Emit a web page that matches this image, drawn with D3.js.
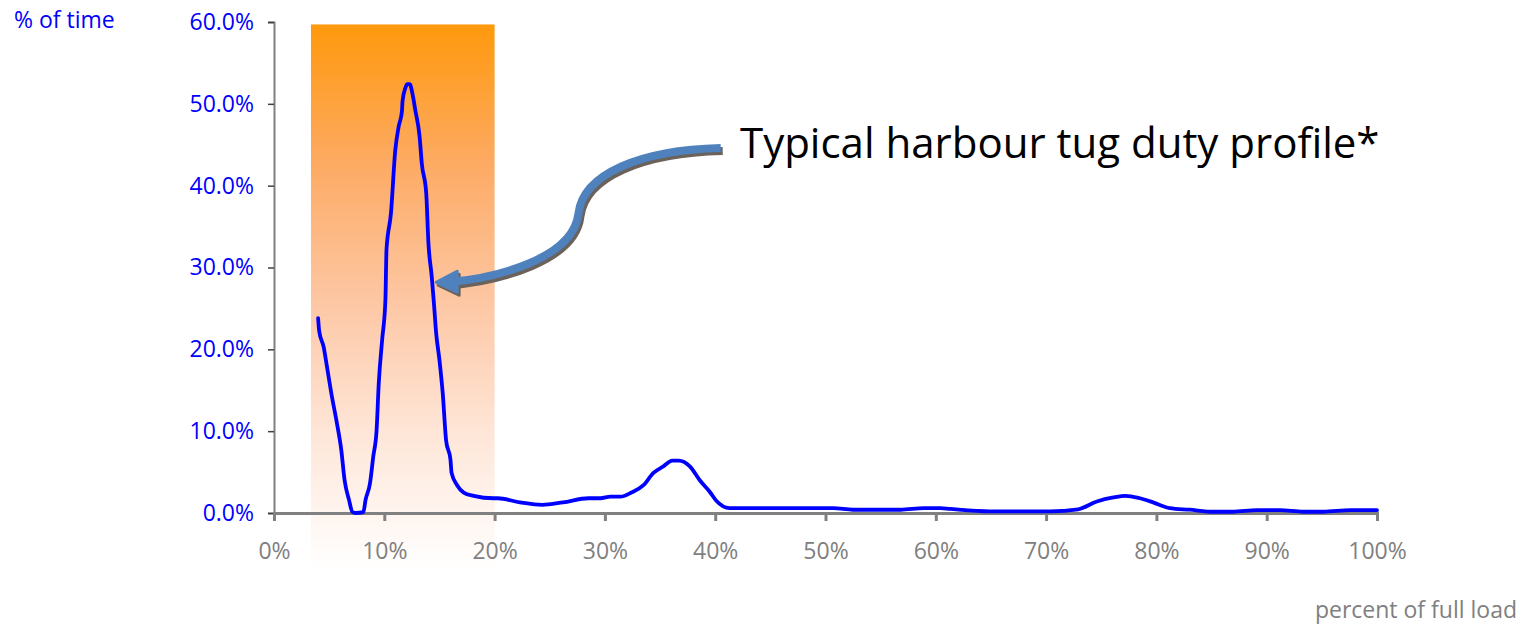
<!DOCTYPE html>
<html>
<head>
<meta charset="utf-8">
<script src="https://cdn.jsdelivr.net/npm/d3@7"></script>
<style>
  body { margin: 0; background: #fff; }
  svg { display: block; font-family: "Open Sans", sans-serif; }
</style>
</head>
<body>
<div id="duty-profile"></div>
<script>
// percent of full load (x) and percent of time (y)
const loadPct = [4.0, 4.1, 4.5, 4.8, 5.2, 5.7, 6.1, 6.4, 6.8, 7.1, 7.4, 8.1, 8.3, 8.7, 9.0, 9.3, 9.5, 9.8,
    10.1, 10.2, 10.6, 11.0, 11.3, 11.6, 11.65, 11.9, 12.1, 12.3, 12.6, 12.8, 13.2, 13.4, 13.8, 14.0, 14.3,
    14.5, 14.7, 15.0, 15.3, 15.6, 16.0, 16.1, 16.6, 17.2, 18.1, 19.9, 20.3, 22.3, 24.3, 26.2, 28.5, 29.6,
    30.5, 31.4, 32.4, 33.5, 34.4, 35.3, 36.1, 36.7, 37.7, 38.6, 39.5, 40.1, 41.3, 45.0, 50.7, 52.5, 56.8,
    58.9, 60.4, 61.3, 64.9, 70.4, 72.9, 74.6, 76.1, 77.2, 78.5, 79.7, 81.2, 83.0, 85.2, 86.9, 89.1, 91.2,
    93.3, 95.1, 97.6, 100];
const timePct = [23.8, 22.2, 20.3, 17.9, 14.6, 11.0, 7.7, 4.0, 1.6, 0.15, 0, 0.1, 1.6, 3.6, 6.9, 10.1, 15.9, 21.1,
    26.0, 32.2, 36.6, 44.4, 47.2, 49.1, 50.3, 51.9, 52.4, 52.4, 50.9, 49.3, 46.0, 42.7, 39.1, 33.0, 28.9,
    25.6, 22.0, 18.7, 14.6, 8.9, 6.5, 4.9, 3.4, 2.5, 2.1, 1.8, 1.8, 1.3, 1.0, 1.3, 1.8, 1.8,
    2.0, 2.0, 2.5, 3.4, 4.9, 5.7, 6.4, 6.4, 5.7, 4.0, 2.6, 1.5, 0.6, 0.6, 0.6, 0.4, 0.4,
    0.6, 0.6, 0.5, 0.2, 0.2, 0.45, 1.4, 1.9, 2.1, 1.8, 1.3, 0.6, 0.4, 0.15, 0.15, 0.35, 0.35,
    0.15, 0.15, 0.35, 0.35];

const yTicks = [0, 10, 20, 30, 40, 50, 60];
const xTicks = [0, 10, 20, 30, 40, 50, 60, 70, 80, 90, 100];
const highlightRange = [3.35, 20]; // shaded band, percent of full load

const yTitle = '% of time';
const xTitle = 'percent of full load';
const note = 'Typical harbour tug duty profile*';

const width = 1522, height = 625;
const margin = { top: 22, right: 145, bottom: 112, left: 274 };

const svg = d3.select('#duty-profile')
    .append('svg')
    .attr('width', width)
    .attr('height', height);

const x = d3.scaleLinear().domain([0, 100]).range([margin.left, width - margin.right]);
const y = d3.scaleLinear().domain([0, 60]).range([height - margin.bottom, margin.top]);

/* orange band */
const defs = svg.append('defs');
const grad = defs.append('linearGradient')
    .attr('id', 'band')
    .attr('x1', 0).attr('y1', 0).attr('x2', 0).attr('y2', 1);
grad.append('stop').attr('offset', '0%').attr('stop-color', '#ff990c');
grad.append('stop').attr('offset', '25%').attr('stop-color', '#fdaa62');
grad.append('stop').attr('offset', '50%').attr('stop-color', '#fdc6a2');
grad.append('stop').attr('offset', '75%').attr('stop-color', '#fee6d8');
grad.append('stop').attr('offset', '100%').attr('stop-color', '#ffffff');

svg.append('rect')
    .attr('x', x(highlightRange[0]))
    .attr('y', y(59.7))
    .attr('width', x(highlightRange[1]) - x(highlightRange[0]))
    .attr('height', height - 55 - y(59.7))
    .attr('fill', 'url(#band)');

/* Y-axis */
const yAxis = svg.append('g')
    .attr('transform', `translate(${margin.left},0)`)
    .call(d3.axisLeft(y).tickValues(yTicks).tickFormat(d => d.toFixed(1) + '%').tickSize(6).tickPadding(14));
yAxis.select('.domain').attr('stroke', '#808080').attr('stroke-width', 2);
yAxis.selectAll('.tick line').attr('stroke', '#404040').attr('stroke-width', 1.5);
yAxis.selectAll('.tick text')
    .attr('fill', '#0000ff')
    .style('font-size', '23px')
    .style('font-family', '"Open Sans", sans-serif');

/* X-axis */
const xAxis = svg.append('g')
    .attr('transform', `translate(0,${y(0)})`)
    .call(d3.axisBottom(x).tickValues(xTicks).tickFormat(d => d + '%').tickSize(8).tickPadding(22));
xAxis.select('.domain').attr('stroke', '#808080').attr('stroke-width', 3);
xAxis.selectAll('.tick line').attr('stroke', '#808080').attr('stroke-width', 3);
xAxis.selectAll('.tick text')
    .attr('fill', '#808080')
    .style('font-size', '23px')
    .style('font-family', '"Open Sans", sans-serif');

/* axis titles */
svg.append('text')
    .attr('x', 14)
    .attr('y', 28)
    .attr('fill', '#0000ff')
    .style('font-size', '23px')
    .text(yTitle);

svg.append('text')
    .attr('x', 1517)
    .attr('y', 618)
    .attr('text-anchor', 'end')
    .attr('fill', '#808080')
    .style('font-size', '23px')
    .text(xTitle);

/* the curve */
const points = loadPct.map((v, i) => ({ load: v, time: timePct[i] }));
const line = d3.line()
    .x(d => x(d.load))
    .y(d => y(d.time))
    .curve(d3.curveMonotoneX);

svg.append('path')
    .datum(points)
    .attr('fill', 'none')
    .attr('stroke', '#0000ff')
    .attr('stroke-width', 3.8)
    .attr('stroke-linejoin', 'round')
    .attr('stroke-linecap', 'round')
    .attr('d', line);

/* annotation arrow */
const tip = [x(14.7), y(28.2)];
const start = [x(40.5), y(44.6)];
const mid = [x(27.6), y(36.6)];
const arrowPath = `M${start[0]},${start[1]}
    C${start[0] - 80},${start[1] + 2} ${mid[0] + 5},${mid[1] - 40} ${mid[0]},${mid[1]}
    C${mid[0] - 5},${mid[1] + 45} ${tip[0] + 60},${tip[1] - 4} ${tip[0] + 12},${tip[1]}`;
const head = `M${tip[0]},${tip[1]} L${tip[0] + 21},${tip[1] - 11} L${tip[0] + 21},${tip[1] + 10} Z`;

const shadow = svg.append('g').attr('transform', 'translate(2,3)');
shadow.append('path').attr('d', arrowPath).attr('fill', 'none')
    .attr('stroke', '#6b625c').attr('stroke-width', 8);
shadow.append('path').attr('d', head).attr('fill', '#6b625c')
    .attr('stroke', '#6b625c').attr('stroke-width', 3).attr('stroke-linejoin', 'round');

svg.append('path').attr('d', arrowPath).attr('fill', 'none')
    .attr('stroke', '#4f81bd').attr('stroke-width', 8);
svg.append('path').attr('d', head).attr('fill', '#4f81bd')
    .attr('stroke', '#4f81bd').attr('stroke-width', 3).attr('stroke-linejoin', 'round');

svg.append('text')
    .attr('x', 740)
    .attr('y', 158)
    .attr('fill', '#000')
    .style('font-size', '42px')
    .text(note);
</script>
</body>
</html>
